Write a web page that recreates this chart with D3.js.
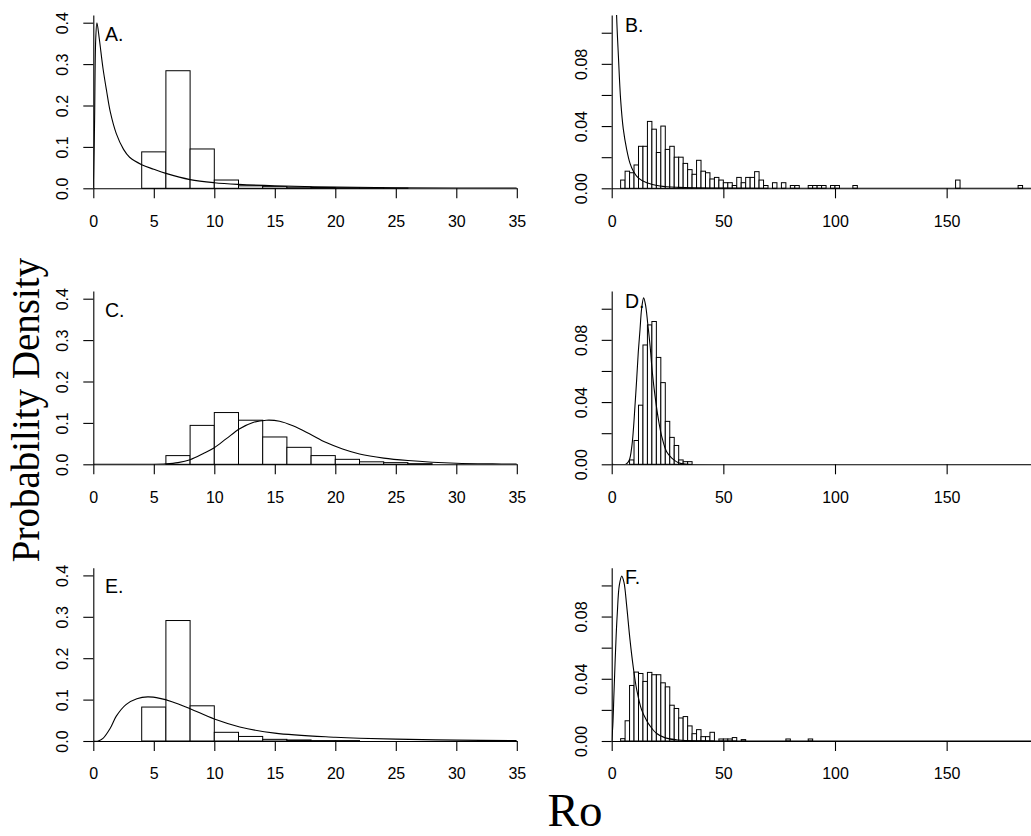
<!DOCTYPE html>
<html>
<head>
<meta charset="utf-8">
<script src="https://cdn.jsdelivr.net/npm/d3@7"></script>
<style>
  body { margin: 0; background: #fff; }
  text { font-family: "Liberation Sans", Arial, sans-serif; }
</style>
</head>
<body>
<div class="chart"></div>
<script>
// histogram bins are 2 units wide; left edges + densities
var binW = 2;

var edgesA = [4, 6, 8, 10, 12, 14, 16, 18, 20, 22, 24];
var densA  = [0.088, 0.284, 0.095, 0.020, 0.006, 0.004, 0.003, 0.002, 0.0015, 0.001, 0.0005];

var edgesB = [4, 6, 8, 10, 12, 14, 16, 18, 20, 22, 24, 26, 28, 30, 32, 34, 36, 38, 40, 42, 44, 46, 48,
              50, 52, 54, 56, 58, 60, 62, 64, 66, 68, 72, 76, 80, 82, 88, 90, 92, 94, 98, 100, 108, 154, 182];
var densB  = [0.0053, 0.011, 0.010, 0.015, 0.027, 0.027, 0.043, 0.038, 0.023, 0.040, 0.025, 0.027, 0.020,
              0.020, 0.016, 0.012, 0.009, 0.018, 0.011, 0.010, 0.006, 0.007, 0.0053, 0.0036, 0.0036, 0.0018,
              0.007, 0.0036, 0.007, 0.007, 0.0107, 0.0053, 0.0018, 0.0036, 0.0036, 0.0018, 0.0018, 0.0018,
              0.0018, 0.0018, 0.0018, 0.0018, 0.0018, 0.0018, 0.0053, 0.0018];

var edgesC = [6, 8, 10, 12, 14, 16, 18, 20, 22, 24, 26];
var densC  = [0.021, 0.094, 0.125, 0.1065, 0.066, 0.041, 0.021, 0.012, 0.006, 0.004, 0.0015];

var edgesD = [8, 10, 12, 14, 16, 18, 20, 22, 24, 26, 28, 30, 32, 34];
var densD  = [0.0028, 0.0153, 0.038, 0.0767, 0.0896, 0.0918, 0.0687, 0.0525, 0.0276, 0.0173, 0.0121, 0.0028, 0.0017, 0.0017];

var edgesE = [4, 6, 8, 10, 12, 14, 16, 18, 20];
var densE  = [0.082, 0.291, 0.085, 0.021, 0.011, 0.004, 0.0025, 0.001, 0.001];

var edgesF = [4, 6, 8, 10, 12, 14, 16, 18, 20, 22, 24, 26, 28, 30, 32, 34, 36, 38, 40, 42, 44,
              48, 50, 52, 54, 58, 78, 88];
var densF  = [0.0015, 0.013, 0.0357, 0.0443, 0.0434, 0.0383, 0.0441, 0.0426, 0.0426, 0.0374, 0.0348,
              0.023, 0.0209, 0.0148, 0.0157, 0.0097, 0.0047, 0.0073, 0.0028, 0.0028, 0.0056,
              0.0013, 0.0013, 0.0013, 0.0022, 0.0009, 0.0013, 0.0013];

// fitted density curves
var curveAx = [0, 0.1, 0.2, 0.3, 0.5, 0.8, 1.1, 1.4, 1.9, 2.5, 3, 4, 5, 6, 8, 10, 12, 15, 20, 25, 30, 35];
var curveAy = [0, 0.15, 0.36, 0.40, 0.36, 0.29, 0.235, 0.185, 0.132, 0.094, 0.075, 0.057, 0.046, 0.036,
               0.021, 0.0135, 0.0095, 0.006, 0.003, 0.0015, 0.0008, 0.0005];

var curveBx = [1.5, 2.2, 3, 4, 5.2, 6.7, 8.2, 9.7, 12, 15.7, 21.6, 30, 50, 100, 200];
var curveBy = [0.16, 0.111, 0.085, 0.057, 0.038, 0.025, 0.016, 0.011, 0.0065, 0.0035, 0.0015, 0.0006, 0.0001, 0, 0];

var curveCx = [0, 5, 6, 7, 8, 9.1, 10, 11, 12.1, 13.2, 14.3, 15.4, 16.5, 17.9, 19.2, 20.6, 22, 24, 26, 28, 30, 33, 35];
var curveCy = [0, 0, 0.001, 0.004, 0.011, 0.026, 0.040, 0.062, 0.086, 0.101, 0.1065, 0.104, 0.093, 0.073,
               0.053, 0.037, 0.025, 0.015, 0.009, 0.005, 0.0025, 0.001, 0.0005];

var curveDx = [0, 6.4, 7.9, 9.0, 9.7, 10.4, 11.2, 11.9, 12.7, 13.4, 14.3, 15.2, 16.1, 17.2, 18.2, 19.4,
               20.9, 22.4, 24.6, 26.9, 29.9, 33.6, 200];
var curveDy = [0, 0, 0.0028, 0.0114, 0.022, 0.037, 0.055, 0.072, 0.087, 0.100, 0.107, 0.102, 0.091, 0.076,
               0.059, 0.044, 0.029, 0.018, 0.008, 0.004, 0.001, 0, 0];

var curveEx = [0, 0.4, 0.8, 1.4, 1.9, 2.7, 3.6, 4.5, 5.5, 6.5, 8, 10, 12.1, 15, 20, 22, 25, 30, 35];
var curveEy = [0, 0, 0.0065, 0.031, 0.060, 0.088, 0.102, 0.1065, 0.103, 0.095, 0.078, 0.053, 0.034,
               0.019, 0.009, 0.0065, 0.0045, 0.002, 0.001];

var curveFx = [0, 0.5, 1, 1.5, 2, 2.5, 3.4, 4.5, 5.5, 6.7, 8.2, 9.7, 11.2, 13.4, 15.7, 17, 20, 24, 30, 40, 60, 200];
var curveFy = [0, 0.01, 0.03, 0.05, 0.068, 0.082, 0.100, 0.106, 0.102, 0.087, 0.065, 0.047, 0.033, 0.020,
               0.013, 0.010, 0.005, 0.002, 0.0006, 0.0001, 0, 0];

var ticksLeftX = [0, 5, 10, 15, 20, 25, 30, 35];
var ticksRightX = [0, 50, 100, 150];
var ticksLeftY = [0, 0.1, 0.2, 0.3, 0.4];
var ticksRightY = [0, 0.02, 0.04, 0.06, 0.08, 0.10];
var labelsRightY = [0, 0.04, 0.08];

var panelNames = ["A.", "B.", "C.", "D.", "E.", "F."];

var width = 1031, height = 836;

var svg = d3.select(".chart").append("svg")
    .attr("width", width)
    .attr("height", height)
    .style("display", "block");

var baselines = [188.3, 464.3, 741];
var plotH = 173.3;

var colLeft = { x0: 93.3, x1: 516.8, dom: [0, 35], ydom: [0, 0.4186], xticks: ticksLeftX, yticks: ticksLeftY,
                yfmt: function(d) { return d3.format(".1f")(d); }, labX: 105, labDy: 25.7 };
var colRight = { x0: 611.7, x1: 1058.3, dom: [0, 200], ydom: [0, 0.1114], xticks: ticksRightX, yticks: ticksRightY,
                 yfmt: function(d) { return labelsRightY.some(function(v) { return Math.abs(v - d) < 1e-9; }) ? d3.format(".2f")(d) : ""; },
                 labX: 625, labDy: 16.6 };

var panels = [
  { col: colLeft,  row: 0, edges: edgesA, dens: densA, cx: curveAx, cy: curveAy },
  { col: colRight, row: 0, edges: edgesB, dens: densB, cx: curveBx, cy: curveBy },
  { col: colLeft,  row: 1, edges: edgesC, dens: densC, cx: curveCx, cy: curveCy },
  { col: colRight, row: 1, edges: edgesD, dens: densD, cx: curveDx, cy: curveDy },
  { col: colLeft,  row: 2, edges: edgesE, dens: densE, cx: curveEx, cy: curveEy },
  { col: colRight, row: 2, edges: edgesF, dens: densF, cx: curveFx, cy: curveFy }
];

panels.forEach(function(p, i) {
  var c = p.col,
      base = baselines[p.row],
      top = base - plotH;

  var x = d3.scaleLinear().domain(c.dom).range([c.x0, c.x1]);
  var y = d3.scaleLinear().domain(c.ydom).range([base, top]);

  var g = svg.append("g").attr("class", "panel");

  svg.append("clipPath")
      .attr("id", "clip-" + i)
    .append("rect")
      .attr("x", c.x0)
      .attr("y", top)
      .attr("width", c.x1 - c.x0)
      .attr("height", plotH);

  g.selectAll(".bar")
    .data(p.edges.map(function(e, k) { return { x: e, d: p.dens[k] }; }))
    .enter().append("rect")
      .attr("class", "bar")
      .attr("x", function(d) { return x(d.x); })
      .attr("y", function(d) { return y(d.d); })
      .attr("width", function(d) { return x(d.x + binW) - x(d.x); })
      .attr("height", function(d) { return base - y(d.d); })
      .style("fill", "#fff")
      .style("stroke", "#000")
      .style("stroke-width", 1);

  var line = d3.line()
      .x(function(d) { return x(d[0]); })
      .y(function(d) { return y(Math.max(0, d[1])); })
      .curve(d3.curveCatmullRom.alpha(0.5));

  g.append("path")
      .datum(p.cx.map(function(v, k) { return [v, p.cy[k]]; }))
      .attr("clip-path", "url(#clip-" + i + ")")
      .attr("d", line)
      .style("fill", "none")
      .style("stroke", "#000")
      .style("stroke-width", 1.1);

  // x axis sits on the zero line
  var xa = g.append("g")
      .attr("transform", "translate(0," + base + ")")
      .call(d3.axisBottom(x).tickValues(c.xticks).tickSize(10).tickSizeOuter(0)
            .tickFormat(d3.format("d")));
  xa.selectAll("text")
      .attr("y", 38.4)
      .attr("dy", null)
      .style("font-size", "16px")
      .style("fill", "#000");

  var ya = g.append("g")
      .attr("transform", "translate(" + c.x0 + ",0)")
      .call(d3.axisLeft(y).tickValues(c.yticks).tickSize(10).tickSizeOuter(0).tickFormat(c.yfmt));
  ya.selectAll("text")
      .attr("x", null)
      .attr("dy", null)
      .attr("y", -25)
      .attr("transform", "rotate(-90)")
      .attr("text-anchor", "middle")
      .style("font-size", "16px")
      .style("fill", "#000");

  g.selectAll(".domain, .tick line").style("stroke", "#000").style("stroke-width", 1.1);

  g.append("text")
      .attr("x", c.labX)
      .attr("y", top + c.labDy)
      .style("font-size", "19.5px")
      .text(panelNames[i]);
});

svg.append("text")
    .attr("transform", "translate(39,410) rotate(-90)")
    .attr("text-anchor", "middle")
    .style("font-family", "'Liberation Serif', 'Times New Roman', serif")
    .style("font-size", "39px")
    .text("Probability Density");

svg.append("text")
    .attr("x", 575)
    .attr("y", 826)
    .attr("text-anchor", "middle")
    .style("font-family", "'Liberation Serif', 'Times New Roman', serif")
    .style("font-size", "47px")
    .text("Ro");
</script>
</body>
</html>
